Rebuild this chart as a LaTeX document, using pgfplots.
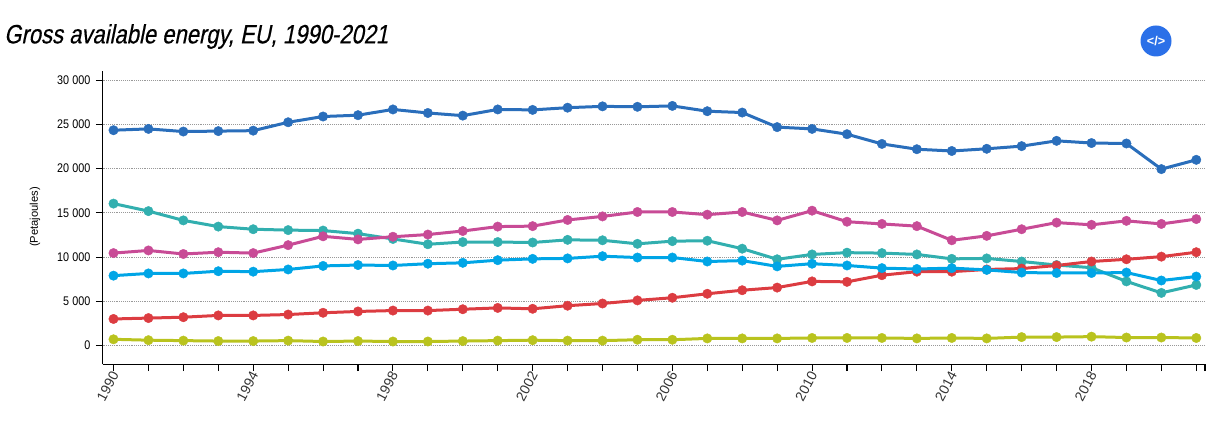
\documentclass[border=0pt]{standalone}
\usepackage{pgfplots}
\pgfplotsset{compat=1.18}
\usepackage{fontspec}
\setmainfont{Liberation Sans}
\newfontfamily\condfont[FakeStretch=0.86]{Liberation Sans}
\newfontfamily\titlefont[FakeStretch=0.83,FakeSlant=0.2,FakeBold=0.4]{Liberation Sans}
\definecolor{cblue}{HTML}{2A6EBB}
\definecolor{cteal}{HTML}{32AFAF}
\definecolor{cmag}{HTML}{C84B96}
\definecolor{ccyan}{HTML}{00A5E6}
\definecolor{cred}{HTML}{DC3C41}
\definecolor{colive}{HTML}{B9C31E}
\definecolor{cicon}{HTML}{2B70E8}
\begin{document}
\begin{tikzpicture}[x=0.75pt,y=0.75pt]
\path[use as bounding box] (0,0) rectangle (1209,423);
\node[anchor=west,inner sep=0pt,font=\titlefont\fontsize{19.9pt}{21pt}\selectfont] at (4,386.5) {Gross available energy, EU, 1990-2021};
\fill[cicon] (1156,382) circle (15.5);
\node[text=white,inner sep=0pt,font=\bfseries\fontsize{9.5pt}{10pt}\selectfont] at (1156,382) {</>};
\begin{axis}[
  at={(76.875pt,43.875pt)}, anchor=south west,
  scale only axis, width=826.875pt, height=220.125pt,
  xmin=1989.685, xmax=2021.25, ymin=-2150, ymax=31050,
  axis x line=bottom, axis y line=left,
  axis line style={-,black,line width=0.9pt},
  xtick={1990,1994,...,2018},
  xticklabels={1990,1994,1998,2002,2006,2010,2014,2018},
  minor xtick={1991,1992,1993,1995,1996,1997,1999,2000,2001,2003,2004,2005,2007,2008,2009,2011,2012,2013,2015,2016,2017,2019,2020,2021,2021.25},
  ytick={0,5000,...,30000},
  scaled y ticks=false,
  ymajorgrids,
  grid style={densely dotted,color=black!40,line width=0.6pt},
  tick style={black,line width=0.8pt},
  major tick length=5pt, minor tick length=5pt,
  tick align=outside,
  x tick label style={rotate=62,anchor=east,font=\fontsize{10.4pt}{11pt}\selectfont,text=black!80,xshift=3pt,yshift=-1.5pt},
  y tick label style={font=\condfont\fontsize{9.4pt}{10pt}\selectfont,xshift=-0.5pt},
  /pgf/number format/assume math mode=true,
  yticklabel style={/pgf/number format/.cd,fixed,precision=0,1000 sep={\hspace{2.6pt}}},
  every axis y label/.style={at={(axis description cs:-0.0612,0.5025)},rotate=90,anchor=center,font=\fontsize{8.4pt}{9pt}\selectfont},
  ylabel={(Petajoules)},
  clip=false,
  every axis plot/.append style={line width=2.25pt,mark=*,mark size=3.55pt,solid},
]
\addplot[cblue,mark options={fill=cblue,draw=cblue,line width=0.3pt}] table[row sep=\\]{
1990 24350\\1991 24500\\1992 24200\\1993 24250\\1994 24300\\1995 25250\\1996 25900\\1997 26050\\1998 26700\\1999 26300\\2000 26000\\2001 26700\\2002 26650\\2003 26900\\2004 27050\\2005 27000\\2006 27100\\2007 26500\\2008 26350\\2009 24700\\2010 24500\\2011 23900\\2012 22800\\2013 22200\\2014 22000\\2015 22250\\2016 22550\\2017 23150\\2018 22900\\2019 22850\\2020 19950\\2021 21000\\};
\addplot[cteal,mark options={fill=cteal,draw=cteal,line width=0.3pt}] table[row sep=\\]{
1990 16050\\1991 15200\\1992 14150\\1993 13450\\1994 13150\\1995 13050\\1996 13000\\1997 12650\\1998 12050\\1999 11450\\2000 11700\\2001 11700\\2002 11650\\2003 11950\\2004 11900\\2005 11500\\2006 11800\\2007 11850\\2008 10950\\2009 9750\\2010 10300\\2011 10500\\2012 10450\\2013 10300\\2014 9800\\2015 9850\\2016 9500\\2017 9100\\2018 8800\\2019 7250\\2020 5950\\2021 6850\\};
\addplot[cmag,mark options={fill=cmag,draw=cmag,line width=0.3pt}] table[row sep=\\]{
1990 10450\\1991 10750\\1992 10350\\1993 10550\\1994 10450\\1995 11350\\1996 12350\\1997 12000\\1998 12300\\1999 12550\\2000 12950\\2001 13450\\2002 13500\\2003 14200\\2004 14600\\2005 15100\\2006 15100\\2007 14800\\2008 15100\\2009 14150\\2010 15250\\2011 14000\\2012 13750\\2013 13500\\2014 11900\\2015 12400\\2016 13150\\2017 13900\\2018 13650\\2019 14100\\2020 13750\\2021 14300\\};
\addplot[cred,mark options={fill=cred,draw=cred,line width=0.3pt}] table[row sep=\\]{
1990 3000\\1991 3100\\1992 3200\\1993 3400\\1994 3400\\1995 3500\\1996 3700\\1997 3850\\1998 3950\\1999 3950\\2000 4100\\2001 4250\\2002 4150\\2003 4500\\2004 4750\\2005 5100\\2006 5400\\2007 5850\\2008 6250\\2009 6550\\2010 7250\\2011 7200\\2012 7950\\2013 8350\\2014 8350\\2015 8600\\2016 8700\\2017 9050\\2018 9500\\2019 9750\\2020 10050\\2021 10550\\};
\addplot[ccyan,mark options={fill=ccyan,draw=ccyan,line width=0.3pt}] table[row sep=\\]{
1990 7900\\1991 8150\\1992 8150\\1993 8400\\1994 8350\\1995 8600\\1996 9000\\1997 9100\\1998 9050\\1999 9250\\2000 9350\\2001 9650\\2002 9800\\2003 9850\\2004 10100\\2005 9950\\2006 9950\\2007 9500\\2008 9600\\2009 8950\\2010 9250\\2011 9050\\2012 8750\\2013 8650\\2014 8750\\2015 8550\\2016 8250\\2017 8200\\2018 8200\\2019 8250\\2020 7350\\2021 7800\\};
\addplot[colive,mark options={fill=colive,draw=colive,line width=0.3pt}] table[row sep=\\]{
1990 700\\1991 600\\1992 550\\1993 500\\1994 500\\1995 550\\1996 450\\1997 500\\1998 450\\1999 450\\2000 500\\2001 550\\2002 600\\2003 550\\2004 550\\2005 650\\2006 650\\2007 800\\2008 800\\2009 800\\2010 850\\2011 850\\2012 850\\2013 800\\2014 850\\2015 800\\2016 950\\2017 950\\2018 1000\\2019 900\\2020 900\\2021 850\\};
\end{axis}
\end{tikzpicture}
\end{document}
